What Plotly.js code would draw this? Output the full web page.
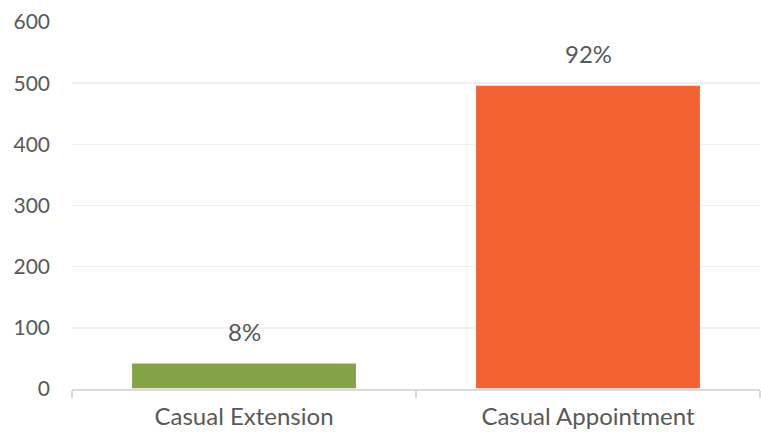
<!DOCTYPE html>
<html>
<head>
<meta charset="utf-8">
<script src="https://cdn.plot.ly/plotly-3.0.1.min.js"></script>
<style>
  html, body { margin: 0; padding: 0; background: #ffffff; }
  #chart { width: 761px; height: 432px; }
</style>
</head>
<body>
<div id="chart"></div>
<script>
// Appointment types and their counts
const categories = ['Casual Extension', 'Casual Appointment'];
const counts = [43, 497];
const barColors = ['#84a246', '#f26233'];

const total = counts.reduce((a, b) => a + b, 0);
const shareLabels = counts.map(v => Math.round(v / total * 100) + '%');

const textColor = '#595959';
const fontFamily = 'Lato, "Open Sans", sans-serif';

const trace = {
  type: 'bar',
  x: categories,
  y: counts,
  marker: {
    color: barColors,
    line: { color: '#ffffff', width: 1.5 }
  },
  width: 0.655,
  hoverinfo: 'x+y'
};

// Percentage share above each bar
const annotations = categories.map((c, i) => ({
  x: c,
  y: counts[i],
  xref: 'x',
  yref: 'y',
  text: shareLabels[i],
  showarrow: false,
  yanchor: 'bottom',
  yshift: 15,
  font: { family: fontFamily, size: 24, color: textColor }
}));

const layout = {
  width: 761,
  height: 432,
  margin: { l: 72, r: 1, t: 22, b: 43, pad: 0 },
  paper_bgcolor: '#ffffff',
  plot_bgcolor: '#ffffff',
  showlegend: false,
  font: { family: fontFamily, color: textColor },
  xaxis: {
    type: 'category',
    showline: true,
    linecolor: '#d9d9d9',
    linewidth: 1.5,
    ticks: 'outside',
    tickson: 'boundaries',
    ticklen: 7,
    tickcolor: '#d9d9d9',
    tickwidth: 1.5,
    showgrid: false,
    ticklabelstandoff: 6,
    tickfont: { family: fontFamily, size: 24, color: textColor }
  },
  yaxis: {
    range: [0, 600],
    tickvals: [0, 100, 200, 300, 400, 500, 600],
    showgrid: true,
    gridcolor: '#f0f0f0',
    gridwidth: 1.5,
    zeroline: false,
    showline: false,
    ticks: '',
    ticklabelstandoff: 21,
    tickfont: { family: fontFamily, size: 21, color: textColor }
  },
  annotations: annotations,
  bargap: 0.345
};

Plotly.newPlot('chart', [trace], layout, { displayModeBar: false, staticPlot: true });
</script>
</body>
</html>
